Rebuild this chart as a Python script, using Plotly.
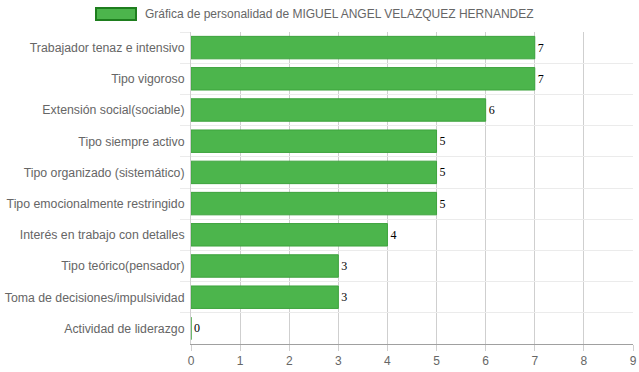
import plotly.graph_objects as go

categories = [
    "Trabajador tenaz e intensivo",
    "Tipo vigoroso",
    "Extensión social(sociable)",
    "Tipo siempre activo",
    "Tipo organizado (sistemático)",
    "Tipo emocionalmente restringido",
    "Interés en trabajo con detalles",
    "Tipo teórico(pensador)",
    "Toma de decisiones/impulsividad",
    "Actividad de liderazgo",
]
values = [7, 7, 6, 5, 5, 5, 4, 3, 3, 0]
x_ticks = [0, 1, 2, 3, 4, 5, 6, 7, 8, 9]
series_name = "Gráfica de personalidad de MIGUEL ANGEL VELAZQUEZ HERNANDEZ"

W, H = 639, 372
L, R, T, B = 191, 6, 32, 28
pw, ph = W - L - R, H - T - B

def px_x(p):
    return (p - L) / pw

def px_y(p):
    return (H - B - p) / ph

fig = go.Figure()
fig.add_trace(go.Bar(
    y=categories, x=values, orientation="h",
    name=series_name,
    marker=dict(color="#4CB54C", line=dict(color="#3DA33D", width=1)),
    text=[str(v) for v in values], textposition="outside",
    textfont=dict(family="Liberation Serif", size=12, color="#000"),
    cliponaxis=False, showlegend=False,
))

fig.update_layout(
    width=W, height=H,
    margin=dict(l=L, r=R, t=T, b=B, autoexpand=False),
    paper_bgcolor="white", plot_bgcolor="white",
    bargap=0.28,
    font=dict(family="Liberation Sans", size=12, color="#666"),
    showlegend=False,
    xaxis=dict(
        range=[0, 9], tickvals=x_ticks, showgrid=True, gridcolor="#CFCFCF", gridwidth=1,
        zeroline=False, showline=True, linecolor="#A0A0A0",
        ticks="outside", ticklen=6, tickcolor="#CFCFCF",
        tickfont=dict(size=12, color="#666"), fixedrange=True,
    ),
    yaxis=dict(
        type="category", autorange="reversed", tickson="boundaries",
        showgrid=True, gridcolor="#EBEBEB", gridwidth=1,
        ticks="outside", ticklen=10, tickcolor="#EBEBEB",
        ticklabelstandoff=3,
        showline=True, linecolor="#CFCFCF",
        tickfont=dict(size=12.3, color="#666"),
    ),
    shapes=[dict(
        type="rect", xref="paper", yref="paper",
        x0=px_x(96), x1=px_x(136), y0=px_y(20), y1=px_y(8),
        fillcolor="#4CB54C", line=dict(color="#1E7E1E", width=2),
    )],
    annotations=[dict(
        xref="paper", yref="paper", x=px_x(143), y=px_y(14),
        xanchor="left", yanchor="middle", showarrow=False,
        text=series_name, font=dict(size=12, color="#666"),
    )],
)

fig.write_html(
    "out.html",
    config={"displayModeBar": False},
    post_script="document.body.style.margin='0';document.body.style.overflow='hidden';",
)
